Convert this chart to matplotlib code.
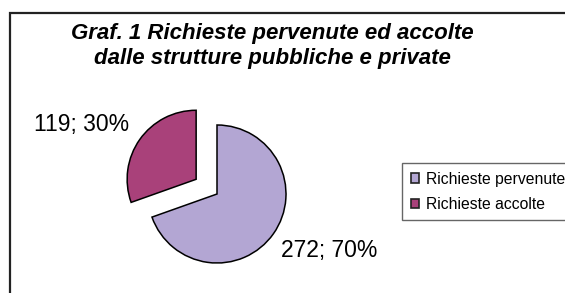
import matplotlib
matplotlib.use("Agg")
import matplotlib.pyplot as plt
from matplotlib.patches import Rectangle

categories = ["Richieste pervenute", "Richieste accolte"]
values = [272, 119]
colors = ["#B3A6D3", "#A9417A"]
title = "Graf. 1 Richieste pervenute ed accolte\ndalle strutture pubbliche e private"

W, H = 565, 293
fig = plt.figure(figsize=(W / 100, H / 100), dpi=100)
fig.patch.set_facecolor("white")

# outer frame (clipped at right and bottom like the original)
fig.patches.append(Rectangle((10 / W, -0.2), 1.3, 1.2 - 13 / H,
                             transform=fig.transFigure, fill=False,
                             edgecolor="#222222", linewidth=1.6, zorder=0))

ax = fig.add_axes([0, 0, 1, 1])
cx, cy, r = 217, H - 194, 69
total = sum(values)
wedges, _ = ax.pie(values, colors=colors, startangle=90, counterclock=False,
                   explode=[0, 0.37 * r], center=(cx, cy), radius=r,
                   wedgeprops=dict(edgecolor="black", linewidth=1.1))
ax.set_xlim(0, W)
ax.set_ylim(0, H)
ax.set_aspect("equal")
ax.axis("off")

lab = [f"{v}; {round(100 * v / total)}%" for v in values]
font = ["Liberation Sans", "DejaVu Sans"]
ax.text(329, H - 250, lab[0], ha="center", va="center", fontsize=16.5, family=font)
ax.text(82, H - 124, lab[1], ha="center", va="center", fontsize=16.5, family=font)

fig.text(272 / W, 1 - 46 / H, title, ha="center", va="center", fontsize=16,
         fontweight="bold", fontstyle="italic", family=font, linespacing=1.25)

leg = fig.legend(wedges, categories, loc="upper left",
                 bbox_to_anchor=(402 / W, 1 - 163 / H), borderaxespad=0,
                 prop=dict(family=font, size=11.3), handlelength=0.55,
                 handleheight=0.55, handletextpad=0.4, labelspacing=0.65,
                 borderpad=0.55, fancybox=False, framealpha=1)
leg.get_frame().set_edgecolor("#666666")
leg.get_frame().set_linewidth(1.0)
for h in leg.legend_handles:
    h.set_edgecolor("#222222")
    h.set_linewidth(1.2)

fig.savefig("out.png", dpi=100)
